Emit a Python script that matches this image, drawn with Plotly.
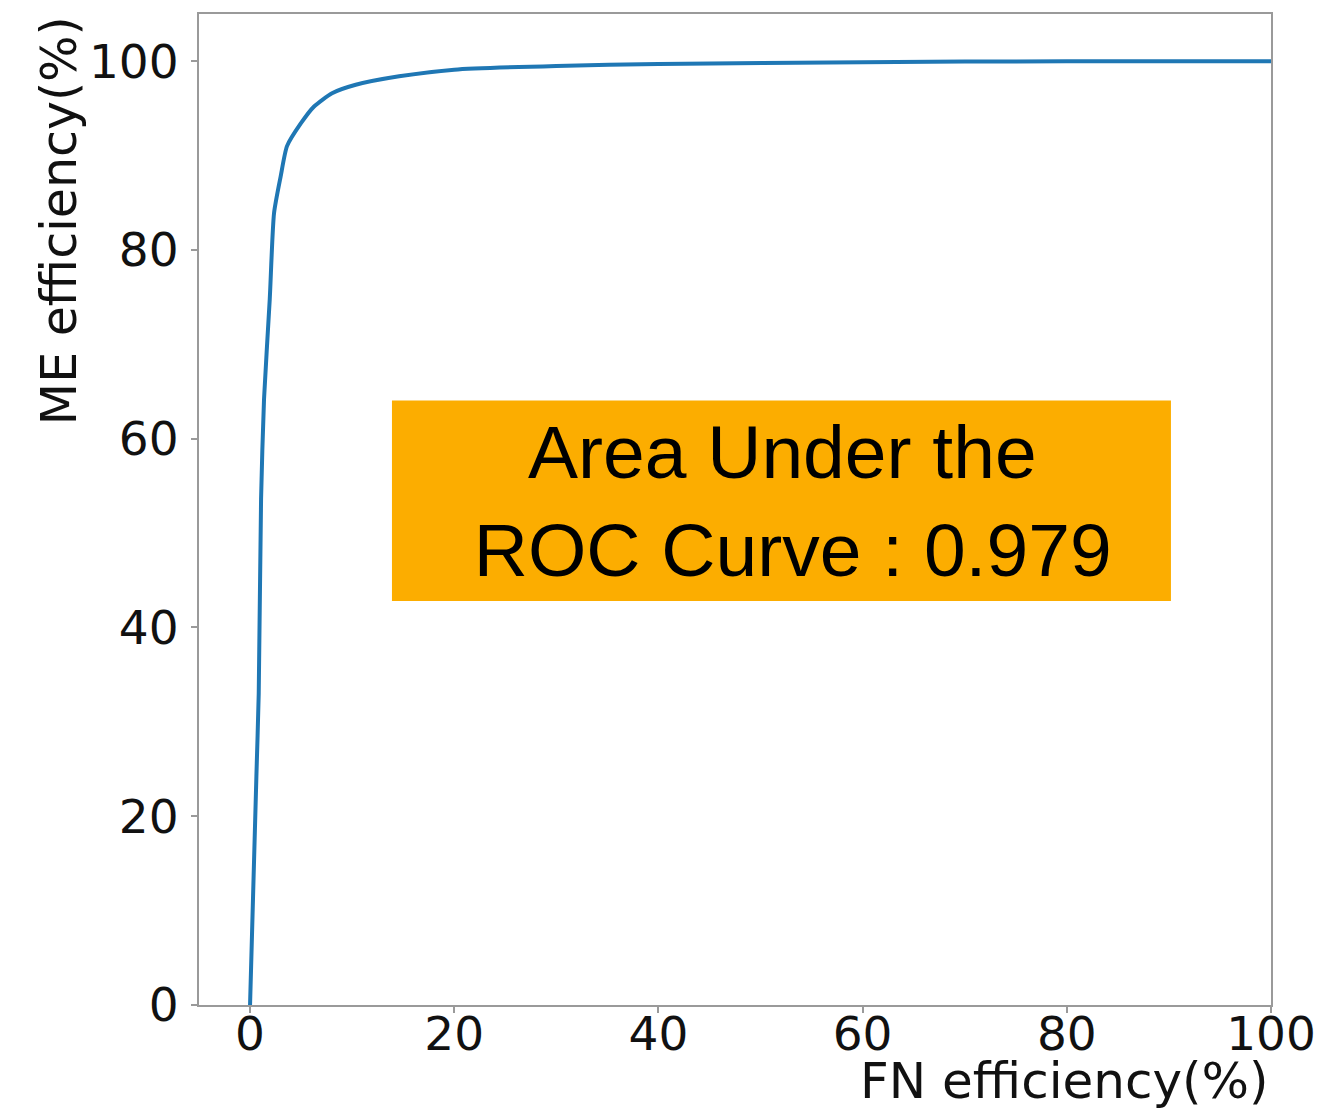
import plotly.graph_objects as go

fn_eff = [0, 0.62, 0.85, 1.08, 1.37, 1.93, 2.35, 3.0, 3.62, 4.97, 6.27, 8.03, 10.35, 14.6, 20, 30, 40, 60, 80, 100]
me_eff = [0, 24.2, 33.0, 53.6, 64.2, 74.8, 83.9, 87.8, 91.0, 93.4, 95.2, 96.6, 97.5, 98.4, 99.1, 99.5, 99.7, 99.9, 100, 100]

x_ticks = [0, 20, 40, 60, 80, 100]
y_ticks = [0, 20, 40, 60, 80, 100]

auc_text = "Area Under the<br> ROC Curve : 0.979"

fig = go.Figure()
fig.add_trace(go.Scatter(x=fn_eff, y=me_eff, mode="lines",
                         line=dict(color="#1f77b4", width=4, shape="spline", smoothing=0.6),
                         showlegend=False, hoverinfo="skip"))

axis_common = dict(showgrid=False, zeroline=False, showline=True, linecolor="#9a9a9a", linewidth=2,
                   mirror=True, ticks="outside", ticklen=6, tickcolor="#9a9a9a", tickwidth=2,
                   automargin=False,
                   tickfont=dict(family="DejaVu Sans", size=47, color="#111"))

fig.update_layout(
    width=1321, height=1113,
    margin=dict(l=199, r=50, t=14, b=108),
    paper_bgcolor="white", plot_bgcolor="white",
    xaxis=dict(range=[-5, 100], tickvals=x_ticks, ticklabelstandoff=-19, **axis_common),
    yaxis=dict(range=[0, 105], tickvals=y_ticks, ticklabelstandoff=3, **axis_common),
    shapes=[dict(type="rect", xref="x", yref="y", x0=13.9, x1=90.2, y0=42.8, y1=64.05,
                 fillcolor="#FCAD00", line=dict(width=0), layer="above")],
    annotations=[
        dict(text=auc_text, xref="x", yref="y", x=52.2, y=53.4, showarrow=False,
             font=dict(family="Liberation Sans", size=75, color="black"), align="center"),
        dict(text="FN efficiency(%)", xref="paper", yref="paper", x=1.0, y=-0.077,
             xanchor="right", yanchor="middle", showarrow=False,
             font=dict(family="DejaVu Sans", size=50, color="#111")),
        dict(text="ME efficiency(%)", xref="paper", yref="paper", x=-0.13, y=1.0,
             xanchor="center", yanchor="top", textangle=-90, showarrow=False,
             font=dict(family="DejaVu Sans", size=49, color="#111")),
    ],
)

fig.write_html("out.html")
